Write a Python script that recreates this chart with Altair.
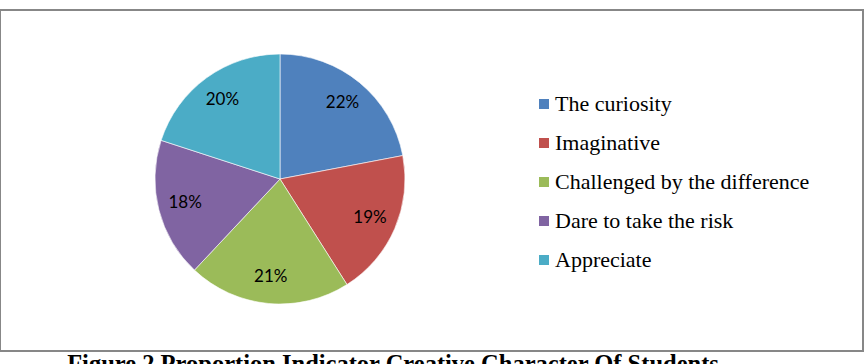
import altair as alt
import pandas as pd

categories = ["The curiosity", "Imaginative", "Challenged by the difference",
              "Dare to take the risk", "Appreciate"]
values = [22, 19, 21, 18, 20]
labels = ["22%", "19%", "21%", "18%", "20%"]
colors = ["#4F81BD", "#C0504D", "#9BBB59", "#8064A2", "#4BACC6"]
order = [0, 1, 2, 3, 4]
title_text = "Figure 2 Proportion Indicator Creative Character Of Students"

df = pd.DataFrame({"category": categories, "value": values,
                   "label": labels, "order": order})

W, H = 863, 341
CX, CY, R = 280, 169, 125

color = alt.Color(
    "category:N",
    scale=alt.Scale(domain=categories, range=colors),
    sort=categories,
    legend=alt.Legend(
        orient="none", legendX=533, legendY=83, title=None,
        symbolType="square", symbolSize=100, symbolStrokeWidth=0,
        labelFont="Liberation Serif", labelFontSize=22, labelColor="#000000",
        rowPadding=17, labelOffset=0, labelLimit=400,
    ),
)

base = alt.Chart(df).encode(
    theta=alt.Theta("value:Q", stack=True),
    order=alt.Order("order:Q"),
)

arcs = base.mark_arc(radius=R, stroke="#ffffff", strokeWidth=0.6).encode(
    color=color, x=alt.value(CX), y=alt.value(CY)
)

texts = base.mark_text(radius=98, font="Lato", fontSize=17, color="#000000").encode(
    text="label:N", x=alt.value(CX), y=alt.value(CY)
)

title = alt.Chart(pd.DataFrame({"t": [title_text]})).mark_text(
    font="Liberation Serif", fontSize=24.5, fontWeight="bold", color="#000000",
    align="center", baseline="alphabetic"
).encode(text="t:N", x=alt.value(393), y=alt.value(362))

chart = alt.layer(arcs, texts, title).properties(
    width=W, height=H,
    autosize=alt.AutoSizeParams(type="none"),
    padding={"left": 0, "top": 10, "right": 5, "bottom": 13},
).configure_view(stroke="#878787", strokeWidth=2)

chart.save("out.html", embed_options={"renderer": "svg", "actions": False})
